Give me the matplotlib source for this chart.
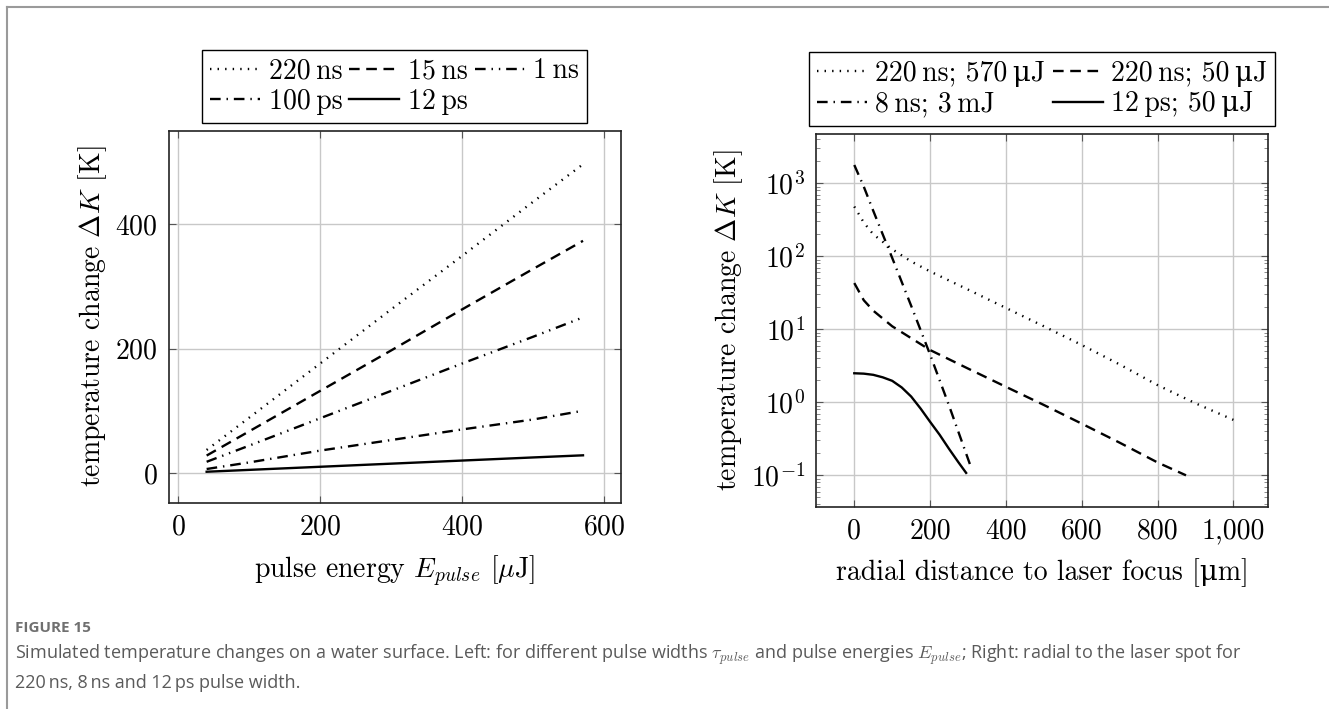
import numpy as np
import matplotlib
matplotlib.use("Agg")
import matplotlib.pyplot as plt
from matplotlib.lines import Line2D
from matplotlib.ticker import StrMethodFormatter, LogLocator, NullFormatter

# ---------------- data ----------------
# left: temperature change vs pulse energy
energy = [40, 100, 200, 300, 400, 500, 570]
dT_220ns = [37, 89, 176, 263, 349, 436, 496]
dT_15ns = [28, 67, 132, 197, 263, 328, 373]
dT_1ns = [18, 44, 88, 132, 176, 219, 250]
dT_100ps = [6.4, 17, 36, 53, 70, 86, 100]
dT_12ps = [2, 5, 10, 15, 20, 25, 28.4]
TS = "\u2009"  # thin space
left_labels = ["220" + TS + "ns", "15" + TS + "ns", "1" + TS + "ns", "100" + TS + "ps", "12" + TS + "ps"]

# right: temperature change vs radial distance
r_570uJ = [0, 25, 50, 100, 150, 200, 300, 400, 500, 600, 700, 800, 900, 1000]
dT_570uJ = [480, 290, 200, 125, 85, 62, 35, 19.6, 11, 6.1, 3.3, 1.72, 0.97, 0.575]
r_50uJ = [0, 25, 50, 100, 200, 300, 400, 500, 600, 700, 800, 875]
dT_50uJ = [43, 25, 18, 11, 5.2, 2.9, 1.63, 0.92, 0.51, 0.28, 0.15, 0.1]
r_3mJ = [0, 25, 50, 100, 150, 200, 250, 310]
dT_3mJ = [1780, 900, 420, 95, 21, 4.5, 0.9, 0.12]
r_12ps = [0, 25, 50, 75, 100, 125, 150, 175, 200, 225, 250, 275, 295]
dT_12ps_r = [2.5, 2.47, 2.38, 2.2, 1.97, 1.6, 1.2, 0.82, 0.54, 0.36, 0.23, 0.15, 0.108]
MU = "\u03bc"
right_labels = ["220" + TS + "ns; 570" + TS + MU + "J", "220" + TS + "ns; 50" + TS + MU + "J",
                "8" + TS + "ns; 3" + TS + "mJ", "12" + TS + "ps; 50" + TS + MU + "J"]

caption_head = "FIGURE 15"
caption_1 = ("Simulated temperature changes on a water surface. Left: for different pulse widths "
             r"$\tau_{pulse}$ and pulse energies $E_{pulse}$; Right: radial to the laser spot for")
caption_2 = "220" + TS + "ns, 8" + TS + "ns and 12" + TS + "ps pulse width."

# ---------------- style ----------------
plt.rcParams['font.family'] = ['cmr10', 'DejaVu Serif']
plt.rcParams['mathtext.fontset'] = 'cm'
plt.rcParams['axes.formatter.use_mathtext'] = True
plt.rcParams['font.size'] = 20

lw = 1.7
DOT = (0, (0.6, 2.6))
DASH = (0, (4.5, 2.8))
DASHDOT = (0, (4.5, 2.5, 0.6, 2.5))
DASHDOTDOT = (0, (4.5, 2.5, 0.6, 2.5, 0.6, 2.5))
grid_c = '#c8c8c8'

fig = plt.figure(figsize=(13.29, 7.09), dpi=100)

def style_axes(ax):
    ax.grid(True, color=grid_c, lw=1.0)
    ax.set_axisbelow(True)
    for s in ax.spines.values():
        s.set_color('#222222')
        s.set_linewidth(1.2)
    ax.tick_params(direction='in', top=True, right=True, length=5, width=0.8,
                   color='#555555', pad=8)

leg_kw = dict(loc='lower center', frameon=True, fancybox=False, edgecolor='black',
              framealpha=1, handlelength=1.8, handletextpad=0.3, columnspacing=0.25,
              borderpad=0.3, labelspacing=0.15, borderaxespad=0)

# ---------------- left ----------------
ax1 = fig.add_axes([0.1269, 0.2910, 0.3401, 0.5247])
h1 = []
for y, ls, lab in zip([dT_220ns, dT_15ns, dT_1ns, dT_100ps, dT_12ps],
                      [DOT, DASH, DASHDOTDOT, DASHDOT, '-'], left_labels):
    l, = ax1.plot(energy, y, color='black', lw=lw, linestyle=ls, label=lab)
    h1.append(l)
ax1.set_xlim(-13.5, 623)
ax1.set_ylim(-47.7, 550)
ax1.set_xticks([0, 200, 400, 600])
ax1.set_yticks([0, 200, 400])
style_axes(ax1)
ax1.set_xlabel(r'pulse energy $E_{pulse}$ [$\mu$J]', labelpad=10)
ax1.set_ylabel(r'temperature change $\Delta K$ [K]', labelpad=4)
order = [0, 3, 1, 4, 2]
leg1 = ax1.legend([h1[i] for i in order], [left_labels[i] for i in order],
                  ncol=3, bbox_to_anchor=(0.5, 1.02), **leg_kw)
leg1.get_frame().set_linewidth(1.0)

# ---------------- right ----------------
ax2 = fig.add_axes([0.6140, 0.2853, 0.3403, 0.5257])
h2 = []
for x, y, ls, lab in zip([r_570uJ, r_50uJ, r_3mJ, r_12ps],
                         [dT_570uJ, dT_50uJ, dT_3mJ, dT_12ps_r],
                         [DOT, DASH, DASHDOT, '-'], right_labels):
    l, = ax2.plot(x, y, color='black', lw=lw, linestyle=ls, label=lab)
    h2.append(l)
ax2.set_yscale('log')
ax2.set_xlim(-101, 1092)
ax2.set_ylim(10 ** -1.43, 10 ** 3.675)
ax2.set_xticks([0, 200, 400, 600, 800, 1000])
ax2.xaxis.set_major_formatter(StrMethodFormatter('{x:,.0f}'))
ax2.yaxis.set_major_locator(LogLocator(base=10, numticks=10))
ax2.yaxis.set_minor_locator(LogLocator(base=10, subs=np.arange(2, 10), numticks=10))
ax2.yaxis.set_minor_formatter(NullFormatter())
style_axes(ax2)
ax2.grid(False, which='minor')
ax2.tick_params(which='minor', direction='in', length=3, width=0.6, color='#777777',
                left=True, right=True)
ax2.set_xlabel('radial distance to laser focus [' + MU + 'm]', labelpad=10)
ax2.set_ylabel(r'temperature change $\Delta K$ [K]', labelpad=4)
order = [0, 2, 1, 3]
leg2 = ax2.legend([h2[i] for i in order], [right_labels[i] for i in order],
                  ncol=2, bbox_to_anchor=(0.5, 1.022), **leg_kw)
leg2.get_frame().set_linewidth(1.0)

# ---------------- page frame + caption ----------------
fig.add_artist(Line2D([7 / 1329, 7 / 1329], [0, 1 - 7 / 709], transform=fig.transFigure,
                      color='#9a9a9a', lw=1.5))
fig.add_artist(Line2D([7 / 1329, 1], [1 - 7 / 709, 1 - 7 / 709], transform=fig.transFigure,
                      color='#9a9a9a', lw=1.5))
fig.text(15 / 1329, 1 - 628 / 709, caption_head, family='Open Sans', fontsize=11,
         fontweight='bold', color='#707070', va='center', ha='left')
fig.text(15 / 1329, 1 - 655 / 709, caption_1, family=['Open Sans', 'DejaVu Sans'], fontsize=13,
         color='#5a5a5a', va='center', ha='left')
fig.text(15 / 1329, 1 - 683 / 709, caption_2, family=['Open Sans', 'DejaVu Sans'], fontsize=13,
         color='#5a5a5a', va='center', ha='left')

fig.savefig('out.png', dpi=100)
